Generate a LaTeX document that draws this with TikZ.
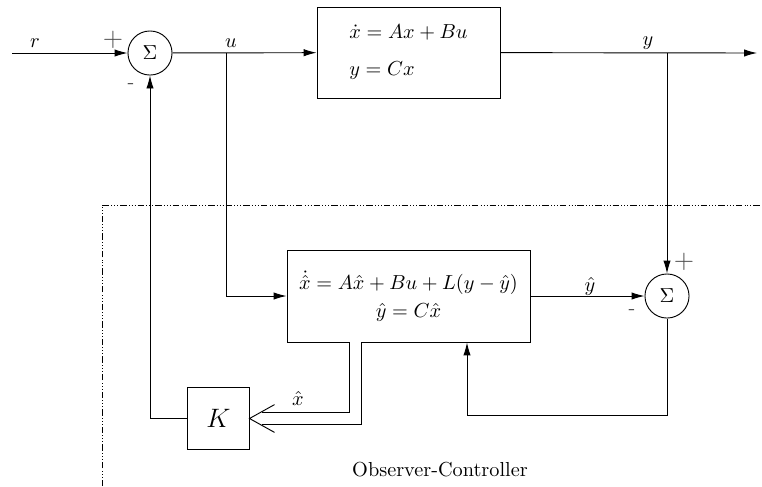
\documentclass[tikz,border=0pt]{standalone}
\usepackage{tikz}
\usetikzlibrary{arrows, arrows.meta, positioning, calc}
\usepackage{amsmath}
\usepackage{amssymb}

\begin{document}
\begin{tikzpicture}[x=0.54pt, y=-0.54pt, >={Latex[length=7pt,width=4pt]},
                    every node/.style={font=\fontsize{10.95}{13}\selectfont}]
    \tikzstyle{block} = [rectangle, draw=black, fill=white, line width=0.5pt, inner sep=0pt]
    \tikzstyle{summer} = [circle, draw=black, minimum size=23.8pt, inner sep=0pt, line width=0.5pt]
    \tikzstyle{arrow} = [line width=0.5pt, ->, color=black]
    \tikzstyle{wire} = [line width=0.5pt, color=black]
    \tikzstyle{sign} = [inner sep=0pt, text=black!70]
    \tikzstyle{dblline} = [double, double distance=6.3pt, line width=0.5pt]
    \tikzstyle{frame} = [line width=0.4pt, dash pattern=on 3.5pt off 1.2pt on 0.4pt off 1.2pt on 0.4pt off 1.2pt on 0.4pt off 1.2pt]

    \useasboundingbox (0,0) rectangle (762,486);

    % plant loop
    \coordinate (rin) at (12,53);
    \node (sum1) [summer] at (150,53) {$\Sigma$};
    \node (plant) [block, minimum width=98.8pt, minimum height=49.1pt, align=left] at (408.5,52.5)
        {$\dot{x} = Ax + Bu$\\[7pt]$y = Cx$};
    \coordinate (yout) at (757,53);
    \coordinate (ubr) at (226,53);
    \coordinate (ybr) at (667,53);

    % observer-controller
    \node (obs) [block, minimum width=131.2pt, minimum height=49.7pt, align=center] at (408.5,296)
        {$\dot{\hat{x}} = A\hat{x} + Bu + L(y - \hat{y})$\\[2pt]$\hat{y} = C\hat{x}$};
    \node (sum2) [summer] at (667,296) {$\Sigma$};
    \node (gain) [block, minimum size=33pt, font=\fontsize{14.4}{17}\selectfont] at (218.5,418.5) {$K$};
    \coordinate (fbk) at (467,415);
    \coordinate (xh) at (355.5,342);

    \draw [arrow] (rin) -- (sum1);
    \draw [arrow] (sum1) -- (plant);
    \draw [arrow] (plant) -- (yout);
    \draw [arrow] (ubr) |- (obs);
    \draw [arrow] (ybr) -- (sum2);
    \draw [arrow] (obs) -- (sum2);
    \draw [arrow] (sum2) |- (fbk) -- (fbk |- obs.south);
    \draw [arrow] (gain) -| (sum1);
    % state estimate, open double arrow
    \draw [dblline] (obs.south -| xh) |- ([xshift=6.5pt]gain.east);
    \draw [wire] ([xshift=13.5pt, yshift=7.5pt]gain.east) -- (gain.east) -- ([xshift=13.5pt, yshift=-7.5pt]gain.east);

    % labels
    \node at (35,43) {$r$};
    \node at (231,43) {$u$};
    \node at (648,43) {$y$};
    \node at (590,286) {$\hat{y}$};
    \node at (298,398) {$\hat{x}$};
    \node [sign] at (113,40) {\Large $+$};
    \node [sign] at (684,262) {\Large $+$};
    \node [sign] at (131,86) {-};
    \node [sign] at (632,312) {-};

    \draw [frame] (102,486) |- (762,205);
    \node (title) at (440,470) {Observer-Controller};
\end{tikzpicture}
\end{document}
